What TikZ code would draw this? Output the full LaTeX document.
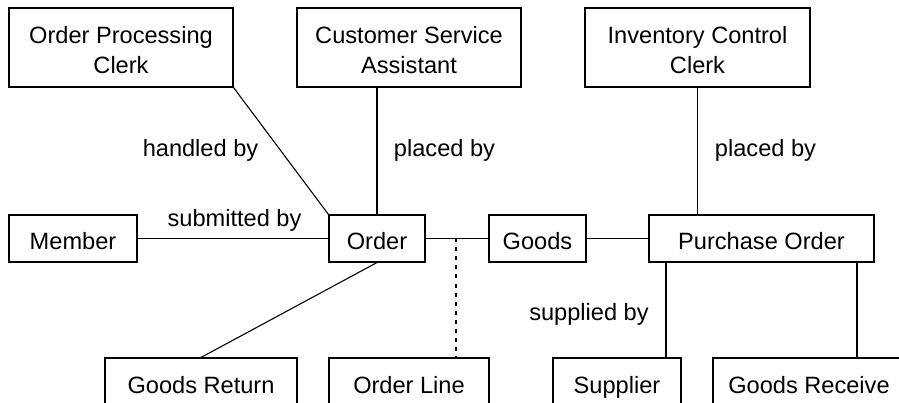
\documentclass[tikz,border=0pt]{standalone}
\usepackage{fontspec}
\setmainfont{Liberation Sans}
\newcommand\myfirststrut{\rule{0pt}{23.2pt}}
\begin{document}
\begin{tikzpicture}[x=1pt,y=-1pt,
  ent/.style={draw, line width=1.1pt, inner sep=0pt, font=\fontsize{23.6}{30}\selectfont, text height=23pt, text depth=0pt},
  ent2/.style={draw, line width=1.1pt, inner sep=0pt, font=\fontsize{23.6}{30}\selectfont, align=center},
  lab/.style={anchor=base, inner sep=0pt, font=\fontsize{23.6}{30}\selectfont},
  conn/.style={line width=1.1pt},
  dashconn/.style={line width=1.1pt, dash pattern=on 4pt off 5pt}]
\fill[white] (0,0) rectangle (899,403);
\useasboundingbox (0,0) rectangle (899,403);
% top row
\node[ent2, minimum width=224pt, minimum height=79pt] (opc) at (121,47.5) {\myfirststrut Order Processing\\Clerk};
\node[ent2, minimum width=224pt, minimum height=79pt] (csa) at (409,47.5) {\myfirststrut Customer Service\\Assistant};
\node[ent2, minimum width=225pt, minimum height=79pt] (icc) at (697.5,47.5) {\myfirststrut Inventory Control\\Clerk};
% middle row
\node[ent, minimum width=128pt, minimum height=47pt] (member) at (73,238.5) {Member};
\node[ent, minimum width=96pt, minimum height=47pt] (order) at (377,238.5) {Order};
\node[ent, minimum width=97pt, minimum height=47pt] (goods) at (537.5,238.5) {Goods};
\node[ent, line width=2pt, minimum width=225pt, minimum height=47pt] (po) at (761.5,238.5) {Purchase Order};
% bottom row
\node[ent, minimum width=192pt, minimum height=47pt] (gret) at (201,381.5) {Goods Return};
\node[ent, minimum width=160pt, minimum height=47pt] (oline) at (409,381.5) {Order Line};
\node[ent, minimum width=128pt, minimum height=47pt] (supp) at (617,381.5) {Supplier};
\node[ent, minimum width=192pt, minimum height=47pt] (grec) at (809,381.5) {Goods Receive};
% helper coordinates
\coordinate (jn) at (456,238.5);
\coordinate (sx) at (666,0);
\coordinate (rx) at (857,0);
% connectors
\draw[conn] (opc.south east) -- (order.north west);
\draw[conn] (order.north) -- (order.north |- csa.south);
\draw[conn] (icc.south) -- (icc.south |- po.north);
\draw[conn] (member.east) -- (order.west);
\draw[conn] (order.east) -- (goods.west);
\draw[dashconn] (jn) -- (jn |- oline.north);
\draw[conn] (goods.east) -- (po.west);
\draw[conn] (order.south) -- (gret.north);
\draw[conn] (sx |- po.south) -- (sx |- supp.north);
\draw[conn] (rx |- po.south) -- (rx |- grec.north);
% labels
\node[lab] (l1) at (200.5,157) {handled by};
\node[lab] (l2) at (444.5,157) {placed by};
\node[lab] (l3) at (765.5,157) {placed by};
\node[lab] (l4) at (234.5,226.5) {submitted by};
\node[lab] (l5) at (589,320) {supplied by};
\end{tikzpicture}
\end{document}
